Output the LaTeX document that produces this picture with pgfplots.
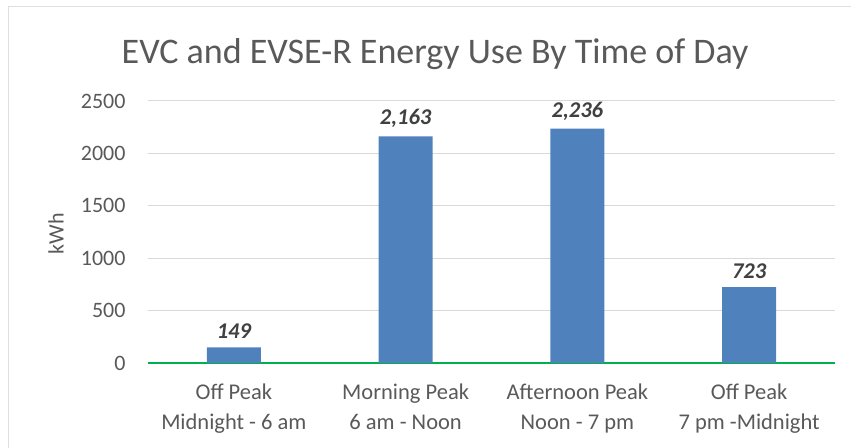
\documentclass[border=0pt]{standalone}
\usepackage{fontspec}
\setmainfont{Carlito}
\usepackage{pgfplots}
\pgfplotsset{compat=1.18}
\definecolor{barblue}{HTML}{4F81BD}
\definecolor{axgreen}{HTML}{00B050}
\definecolor{gridgray}{HTML}{D9D9D9}
\definecolor{txtgray}{HTML}{595959}
\definecolor{lblgray}{HTML}{404040}
\begin{document}
\begin{tikzpicture}[x=1bp,y=1bp]
\path[use as bounding box] (0,0) rectangle (851,448);
\draw[gray!25, line width=1bp] (8,-5) -- (8,441) -- (860,441);
\begin{axis}[
  at={(148bp,85bp)}, anchor=south west,
  scale only axis, width=687bp, height=262bp,
  xmin=-0.5, xmax=3.5, ymin=0, ymax=2500,
  ytick={0,500,...,2500},
  xtick={0,1,2,3},
  xticklabels={{Off Peak\\Midnight - 6 am},{Morning Peak\\6 am - Noon},{Afternoon Peak\\Noon - 7 pm},{Off Peak\\7 pm -Midnight}},
  x tick label style={align=center, font=\fontsize{22.5bp}{30bp}\selectfont, text=txtgray, yshift=-17bp},
  y tick label style={font=\fontsize{22bp}{24bp}\selectfont, text=txtgray, xshift=-19bp},
  /pgf/number format/assume math mode=true,
  scaled y ticks=false,
  yticklabel style={/pgf/number format/1000 sep={}},
  major tick length=0pt,
  axis x line*=bottom, axis y line*=left,
  x axis line style={axgreen, line width=1.5bp, -},
  y axis line style={draw=none},
  ymajorgrids, grid style={gridgray, line width=1bp},
  ybar, bar width=54bp,
  nodes near coords,
  nodes near coords style={font=\fontsize{22.5bp}{24bp}\selectfont\bfseries\itshape, text=lblgray, /pgf/number format/1000 sep={,}, yshift=5bp},
  title={EVC and EVSE-R Energy Use By Time of Day},
  title style={font=\fontsize{36bp}{40bp}\selectfont, text=txtgray, at={(0.418,1)}, anchor=south, yshift=22bp},
  ylabel={kWh},
  ylabel style={font=\fontsize{22bp}{24bp}\selectfont, text=txtgray, at={(rel axis cs:0,0.5)}, anchor=center, yshift=92bp, xshift=-2bp},
  clip=false,
]
\addplot[fill=barblue, draw=none] coordinates {(0,149) (1,2163) (2,2236) (3,723)};
\end{axis}
\end{tikzpicture}
\end{document}
